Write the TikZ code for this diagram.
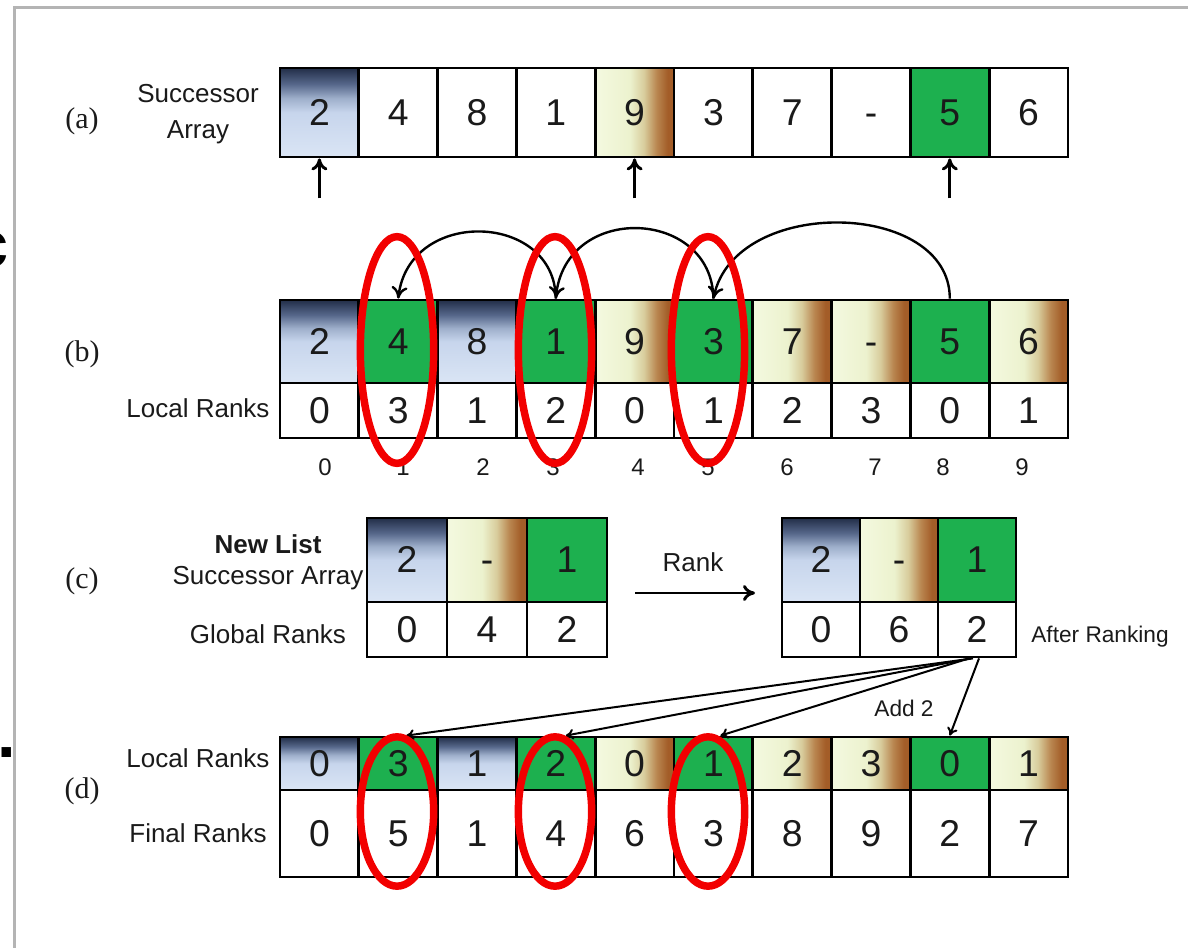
\documentclass[tikz,border=0pt]{standalone}
\usepackage{fontspec}
\setmainfont{Liberation Sans}
\newfontfamily\serifface{Liberation Serif}
\usetikzlibrary{arrows.meta,calc}

\definecolor{txt}{HTML}{1A1A1A}
\definecolor{gcol}{HTML}{1DB04F}
\definecolor{framegray}{HTML}{B4B4B4}
\definecolor{ringred}{HTML}{F20000}
% blue cell shading (dark top, pale bottom)
\definecolor{bluebot}{HTML}{DAE5F5}
\definecolor{bluelow}{HTML}{C7D5EC}
\definecolor{bluemid}{HTML}{9EAFCB}
\definecolor{bluedark}{HTML}{56678A}
\definecolor{bluetop}{HTML}{222E48}
% cream-to-brown cell shading (left to right)
\definecolor{crA}{HTML}{F4F9E0}
\definecolor{crB}{HTML}{ECF2CE}
\definecolor{crC}{HTML}{D8CC9C}
\definecolor{crD}{HTML}{B98650}
\definecolor{crE}{HTML}{A35D28}

\pgfdeclareverticalshading{blueshade}{100bp}{color(0bp)=(bluebot); color(25bp)=(bluebot); color(50bp)=(bluelow); color(58bp)=(bluemid); color(66bp)=(bluedark); color(75bp)=(bluetop); color(100bp)=(bluetop)}
\pgfdeclarehorizontalshading{creamshade}{100bp}{color(0bp)=(crA); color(25bp)=(crA); color(47bp)=(crB); color(56bp)=(crC); color(64bp)=(crD); color(71bp)=(crE); color(100bp)=(crE)}

\newcommand\setfs[1]{\fontsize{#1}{#1}\selectfont}

\tikzset{
  cellbox/.style={draw=black, line width=2.1pt, inner sep=0pt, minimum width=59.1pt,
    font=\setfs{28pt}, text=txt, execute at begin node=\vphantom{0}},
  cellwhite/.style={fill=white},
  cellgreen/.style={fill=gcol},
  cellblue/.style={shading=blueshade},
  cellcream/.style={shading=creamshade},
  lbl/.style={font=\setfs{19.5pt}, text=txt, inner sep=0pt},
  small/.style={font=\setfs{17pt}, text=txt, inner sep=0pt},
  part/.style={font=\serifface\setfs{22.5pt}, text=txt, inner sep=0pt},
  idx/.style={font=\setfs{18pt}, text=txt, inner sep=0pt},
  ptr/.style={line width=2.2pt, -{To[length=9pt,width=12pt]}},
  arc/.style={line width=1.8pt, -{To[length=9pt,width=12pt]}},
  conn/.style={line width=1.5pt, -{To[length=6pt,width=8pt]}},
  ring/.style={draw=ringred, line width=5.6pt},
}

\begin{document}
\begin{tikzpicture}[x=0.75pt, y=-0.75pt]
\useasboundingbox (0,0) rectangle (1188,948);

% page frame and clipped letters at the left edge
\draw[framegray, line width=2.4pt] (14.5,970) -- (14.5,7.5) -- (1210,7.5);
\node[anchor=base east, inner sep=0pt, font=\bfseries\setfs{50pt}] (edgec) at (9,268) {c};
\node[anchor=base west, inner sep=0pt, font=\bfseries\setfs{50pt}] (edgedot) at (-3,757) {.};

% ---------- (a) successor array ----------
\node[part] (pa) at (82,121) {(a)};
\node[lbl, align=center] (sa) at (198,114) {Successor\\[7pt]Array};
\foreach \v/\s [count=\i from 0] in {2/cellblue,4/cellwhite,8/cellwhite,1/cellwhite,9/cellcream,3/cellwhite,7/cellwhite,-/cellwhite,5/cellgreen,6/cellwhite}
  \node[cellbox,\s,minimum height=66.75pt] (a\i) at ({319.4+78.8*\i},112.5) {\v};
\foreach \i in {0,4,8}{
  \coordinate (t\i) at ($(a\i.south)+(0,40)$);
  \draw[ptr] (t\i) -- (a\i.south);
}

% ---------- (b) local ranks ----------
\node[part] (pb) at (82,354) {(b)};
\node[lbl] (lrb) at (198,408) {Local Ranks};
\foreach \v/\s [count=\i from 0] in {2/cellblue,4/cellgreen,8/cellblue,1/cellgreen,9/cellcream,3/cellgreen,7/cellcream,-/cellcream,5/cellgreen,6/cellcream}
  \node[cellbox,\s,minimum height=62.25pt] (b\i) at ({319.4+78.8*\i},341.5) {\v};
\foreach \v [count=\i from 0] in {0,3,1,2,0,1,2,3,0,1}
  \node[cellbox,cellwhite,minimum height=41.25pt] (l\i) at ({319.4+78.8*\i},410.5) {\v};
\foreach \x [count=\i from 0] in {325,403,483,553,638,708,787,875,943,1022}
  \node[idx] (n\i) at (\x,467) {\i};

\draw[arc] (b8.north) .. controls (950,200) and (735,195) .. (b5.north);
\draw[arc] (b5.north) .. controls (712,208) and (565,202) .. (b3.north);
\draw[arc] (b3.north) .. controls (555,212) and (409,207) .. (b1.north);

% ---------- (c) new list ----------
\node[part] (pc) at (82,581) {(c)};
\node[lbl, font=\bfseries\setfs{19.5pt}] (nl) at (268,544) {New List};
\node[lbl] (nsa) at (268,578) {Successor Array};
\node[lbl] (gr) at (268,634) {Global Ranks};
\foreach \v/\s [count=\i from 0] in {2/cellblue,-/cellcream,1/cellgreen}
  \node[cellbox,\s,minimum width=60pt,minimum height=63pt] (cs\i) at ({407+80*\i},560) {\v};
\foreach \v [count=\i from 0] in {0,4,2}
  \node[cellbox,cellwhite,minimum width=60pt,minimum height=41.25pt] (cg\i) at ({407+80*\i},629.5) {\v};

\coordinate (rk1) at (635,593);
\coordinate (rk2) at (755,593);
\draw[ptr] (rk1) -- (rk2);
\node[lbl] (rk) at (693,562) {Rank};

\foreach \v/\s [count=\i from 0] in {2/cellblue,-/cellcream,1/cellgreen}
  \node[cellbox,\s,minimum width=58.5pt,minimum height=63pt] (cr\i) at ({821+78*\i},560) {\v};
\foreach \v [count=\i from 0] in {0,6,2}
  \node[cellbox,cellwhite,minimum width=58.5pt,minimum height=41.25pt] (ca\i) at ({821+78*\i},629.5) {\v};
\node[small] (ar) at (1100,637) {After Ranking};
\node[small] (add) at (904,708) {Add 2};

% ---------- (d) final ranks ----------
\node[part] (pd) at (82,791) {(d)};
\node[lbl] (lrd) at (198,758) {Local Ranks};
\node[lbl] (fr) at (198,833) {Final Ranks};
\foreach \v/\s [count=\i from 0] in {0/cellblue,3/cellgreen,1/cellblue,2/cellgreen,0/cellcream,1/cellgreen,2/cellcream,3/cellcream,0/cellgreen,1/cellcream}
  \node[cellbox,\s,minimum height=39.75pt] (d\i) at ({319.4+78.8*\i},763.5) {\v};
\foreach \v [count=\i from 0] in {0,5,1,4,6,3,8,9,2,7}
  \node[cellbox,cellwhite,minimum height=65.25pt] (f\i) at ({319.4+78.8*\i},833.5) {\v};

% offsets from the global rank of the middle sub-list
\draw[conn] ($(ca2.south)+(-4,0)$) -- ($(d1.north)+(8,0)$);
\draw[conn] ($(ca2.south)+(-6,0)$) -- ($(d3.north)+(10,0)$);
\draw[conn] ($(ca2.south)+(-8,0)$) -- ($(d5.north)+(7,0)$);
\draw[conn] ($(ca2.south)+(2,0)$) -- (d8.north);

% highlighted positions
\foreach \x in {397,555,708}{
  \draw[ring] (\x,350) ellipse [x radius=27.5pt, y radius=85pt];
  \draw[ring] (\x,811.5) ellipse [x radius=27.5pt, y radius=56pt];
}
\end{tikzpicture}
\end{document}
